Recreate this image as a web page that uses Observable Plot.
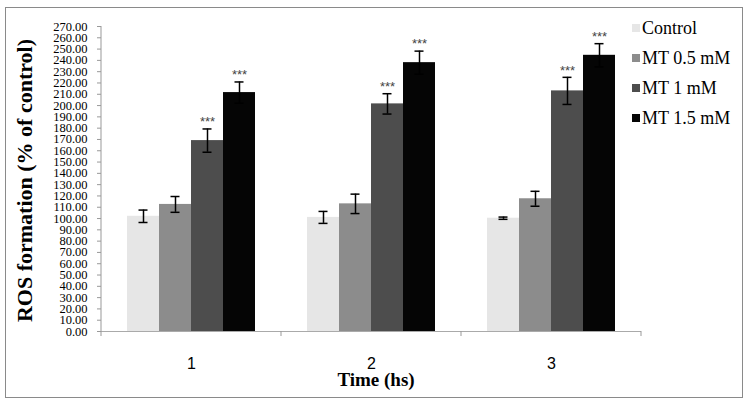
<!DOCTYPE html>
<html>
<head>
<meta charset="utf-8">
<script src="https://cdn.jsdelivr.net/npm/d3@7"></script>
<script src="https://cdn.jsdelivr.net/npm/@observablehq/plot@0.6"></script>
<style>
  html, body { margin: 0; padding: 0; background: #fff; }
  #wrap { position: relative; width: 750px; height: 405px; }
  #border { position: absolute; left: 5px; top: 7px; width: 738px; height: 391px; border: 1.5px solid #8a8a8a; box-sizing: border-box; pointer-events: none; }
  #legend { position: absolute; left: 632px; top: 13px; font-family: "Liberation Serif", "Times New Roman", serif; font-size: 18px; color: #000; }
  #legend .row { display: flex; align-items: center; height: 30px; }
  #legend .sw { width: 8px; height: 8px; margin-right: 2px; }
  #xtitle { position: absolute; left: 0; width: 752px; text-align: center; top: 369px; font-family: "Liberation Serif", "Times New Roman", serif; font-weight: bold; font-size: 19px; }
</style>
</head>
<body>
<div id="wrap"><div id="chart"></div><div id="legend"></div><div id="border"></div></div>
<script>
const times = ["1", "2", "3"];
const series = ["Control", "MT 0.5 mM", "MT 1 mM", "MT 1.5 mM"];
const colors = ["#e6e6e6", "#8c8c8c", "#4d4d4d", "#050505"];
const values = [
  [102, 112.5, 169, 211.5],
  [101, 113, 201.5, 238],
  [100.3, 117.5, 213, 244.5]
];
const errors = [
  [5.5, 7, 10.3, 9.4],
  [5.3, 8.6, 9, 10.2],
  [1, 6.6, 12, 10.3]
];
const stars = [
  ["", "", "***", "***"],
  ["", "", "***", "***"],
  ["", "", "***", "***"]
];
const yTicks = d3.range(0, 271, 10);
const yLabel = "ROS formation (% of control)";
const xLabel = "Time (hs)";

const data = [];
times.forEach((t, i) => series.forEach((s, j) => data.push({
  time: t, series: s, value: values[i][j], err: errors[i][j], star: stars[i][j]
})));

const serif = "Liberation Serif, Times New Roman, serif";

const plot = Plot.plot({
  width: 750,
  height: 405,
  marginLeft: 100,
  marginRight: 108,
  marginTop: 26,
  marginBottom: 74,
  style: { fontFamily: serif, background: "transparent", color: "#000" },
  fx: { domain: times, padding: 0, label: null },
  x: { domain: series, paddingInner: 0, paddingOuter: 0.74, axis: null },
  y: { domain: [0, 270], label: null },
  color: { domain: series, range: colors },
  marks: [
    Plot.axisY({ ticks: yTicks, tickFormat: d => d.toFixed(2), tickSize: 4, tickPadding: 10, fontSize: 12.5, fontFamily: serif, stroke: "#999", fill: "#000", label: null }),
    Plot.axisFx({ anchor: "bottom", tickSize: 0, tickPadding: 26, fontSize: 16, fontFamily: "Liberation Sans, Arial, sans-serif", fill: "#000", label: null }),
    Plot.barY(data, { fx: "time", x: "series", y: "value", fill: "series" }),
    Plot.ruleX(data, { fx: "time", x: "series", y1: d => d.value - d.err, y2: d => d.value + d.err, stroke: "#000", strokeWidth: 1.5 }),
    Plot.tickY(data, { fx: "time", x: "series", y: d => d.value - d.err, stroke: "#000", strokeWidth: 1.5, insetLeft: 11.5, insetRight: 11.5 }),
    Plot.tickY(data, { fx: "time", x: "series", y: d => d.value + d.err, stroke: "#000", strokeWidth: 1.5, insetLeft: 11.5, insetRight: 11.5 }),
    Plot.text(data, { fx: "time", x: "series", y: d => d.value + d.err, text: "star", dy: -7, fontSize: 13, fill: "#444", fontFamily: "Liberation Sans, Arial, sans-serif" }),
    Plot.ruleY([0], { stroke: "#aaa", strokeWidth: 1 })
  ]
});
document.getElementById("chart").appendChild(plot);

// y axis line, group boundary ticks and y title, placed with Plot's own scales
const svg = d3.select(plot);
const fx = plot.scale("fx");
const y = plot.scale("y");
const y0 = y.apply(0);
const left = fx.apply(times[0]);
const right = fx.apply(times[times.length - 1]) + fx.bandwidth;
svg.append("line").attr("x1", left).attr("x2", left).attr("y1", y.apply(270)).attr("y2", y0).attr("stroke", "#999");
const bounds = times.map(t => fx.apply(t)).concat([right]);
svg.selectAll(".gtick").data(bounds).join("line")
  .attr("x1", d => d).attr("x2", d => d).attr("y1", y0).attr("y2", y0 + 5).attr("stroke", "#999");
svg.append("text")
  .attr("transform", `translate(27,${(y.apply(270) + y0) / 2 + 2}) rotate(-90)`)
  .attr("text-anchor", "middle").attr("dominant-baseline", "middle")
  .attr("font-family", serif).attr("font-weight", "bold").attr("font-size", 22)
  .attr("fill", "#000")
  .text(yLabel);

const xt = document.createElement("div");
xt.id = "xtitle"; xt.textContent = xLabel;
document.getElementById("wrap").appendChild(xt);

const legend = document.getElementById("legend");
series.forEach((s, j) => {
  const row = document.createElement("div");
  row.className = "row";
  const sw = document.createElement("div");
  sw.className = "sw"; sw.style.background = colors[j];
  const lab = document.createElement("span"); lab.textContent = s;
  row.appendChild(sw); row.appendChild(lab);
  legend.appendChild(row);
});
</script>
</body>
</html>
